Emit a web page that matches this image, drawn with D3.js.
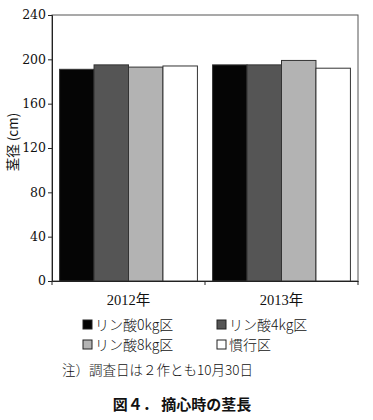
<!DOCTYPE html>
<html><head><meta charset="utf-8">
<script src="https://cdn.jsdelivr.net/npm/d3@7"></script>
<style>
html,body{margin:0;padding:0;background:#fff;}
svg{display:block;}
</style></head>
<body>
<script>
const years = ["2012年", "2013年"];
const seriesNames = ["リン酸0kg区", "リン酸4kg区", "リン酸8kg区", "慣行区"];
const p0 = [191, 195];
const p4 = [195, 195];
const p8 = [193, 199];
const conv = [194, 192];
const yTicks = [0, 40, 80, 120, 160, 200, 240];
const colors = ["#050505", "#555555", "#b3b3b3", "#ffffff"];

const values = [p0, p4, p8, conv];
const W = 373, H = 420;
const m = {left: 52, right: 358, top: 15, bottom: 281};

const svg = d3.select("body").append("svg").attr("width", W).attr("height", H);

const x = d3.scaleBand().domain(years).range([m.left, m.right]).padding(0);
const xs = d3.scaleBand().domain(seriesNames).range([0, x.bandwidth()]).paddingInner(0).paddingOuter(0.22);
const y = d3.scaleLinear().domain([0, 240]).range([m.bottom, m.top]);

// frame
svg.append("rect").attr("x", m.left).attr("y", m.top).attr("width", m.right - m.left).attr("height", m.bottom - m.top)
  .attr("fill", "none").attr("stroke", "#555").attr("stroke-width", 1);

// bars
const data = [];
years.forEach((yr, i) => seriesNames.forEach((s, j) => data.push({yr, s, v: values[j][i], c: colors[j]})));
svg.append("g").selectAll("rect").data(data).join("rect")
  .attr("x", d => x(d.yr) + xs(d.s))
  .attr("width", xs.bandwidth())
  .attr("y", d => y(d.v))
  .attr("height", d => y(0) - y(d.v))
  .attr("fill", d => d.c)
  .attr("stroke", "#333").attr("stroke-width", 1);

// y axis (lines from axis, labels drawn explicitly with scale)
const ya = svg.append("g").attr("transform", `translate(${m.left},0)`)
  .call(d3.axisLeft(y).tickValues(yTicks).tickSize(4).tickFormat(""));
ya.select(".domain").attr("stroke", "#222");
ya.selectAll(".tick line").attr("stroke", "#222");
ya.selectAll(".tick text").remove();
svg.append("g").selectAll("text.yl").data(yTicks).join("text").attr("class", "yl")
  .attr("x", m.left - 6).attr("y", d => y(d)).attr("dy", "0.35em").attr("text-anchor", "end")
  .attr("font-family", "DejaVu Serif").attr("font-size", 12.5).attr("fill", "#111")
  .text(d => d);

// x axis
const xa = svg.append("g").attr("transform", `translate(0,${m.bottom})`)
  .call(d3.axisBottom(x).tickSize(0).tickFormat(""));
xa.select(".domain").attr("stroke", "#222");
xa.selectAll(".tick text").remove();
const bounds = [x(years[0]), ...years.map(d => x(d) + x.bandwidth())];
xa.selectAll("line.bt").data(bounds).join("line").attr("class", "bt")
  .attr("x1", d => d).attr("x2", d => d).attr("y1", 0).attr("y2", 4).attr("stroke", "#222");
svg.append("g").selectAll("text.xl").data(years).join("text").attr("class", "xl")
  .attr("x", d => x(d) + x.bandwidth() / 2).attr("y", 300).attr("dy", "0.35em").attr("text-anchor", "middle")
  .attr("font-family", "'Liberation Serif', 'Noto Sans CJK JP'").attr("font-size", 14.5).attr("fill", "#111")
  .text(d => d);

// y label
svg.append("text").attr("transform", "translate(18,142) rotate(-90)")
  .attr("text-anchor", "middle").attr("font-family", "'Noto Sans CJK JP', sans-serif")
  .attr("font-size", 13.5).attr("fill", "#111").text("茎径 (cm)");

// legend
const lg = svg.append("g");
const legPos = [[83, 325], [217, 325], [83, 345], [217, 345]];
seriesNames.forEach((s, j) => {
  const g = lg.append("g").attr("transform", `translate(${legPos[j][0]},${legPos[j][1]})`);
  g.append("rect").attr("x", 0).attr("y", -5).attr("width", 9).attr("height", 9)
    .attr("fill", colors[j]).attr("stroke", "#222").attr("stroke-width", 1);
  g.append("text").attr("x", 12).attr("y", 0).attr("dy", "0.35em")
    .attr("font-family", "'Noto Sans CJK JP', sans-serif").attr("font-size", 14).attr("font-weight", 300).attr("fill", "#111").text(s);
});

// note
svg.append("text").attr("x", 62).attr("y", 370).attr("dy", "0.35em")
  .attr("font-family", "'Noto Sans CJK JP', sans-serif").attr("font-size", 13.5).attr("font-weight", 300).attr("fill", "#111")
  .text("注）調査日は２作とも10月30日");

// title
svg.append("text").attr("x", 182).attr("y", 405).attr("dy", "0.35em").attr("text-anchor", "middle")
  .attr("font-family", "'Noto Sans CJK JP', sans-serif").attr("font-size", 15).attr("font-weight", "bold").attr("fill", "#111")
  .text("図４． 摘心時の茎長");
</script>
</body></html>
